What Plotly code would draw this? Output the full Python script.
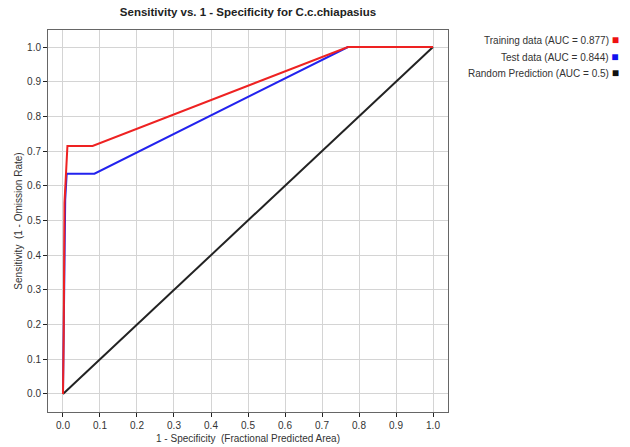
import plotly.graph_objects as go

train_x = [0.0, 0.002, 0.004, 0.006, 0.012, 0.08, 0.77, 1.0]
train_y = [0.0, 0.18, 0.55, 0.60, 0.715, 0.715, 1.0, 1.0]
test_x = [0.0, 0.002, 0.006, 0.01, 0.085, 0.77, 1.0]
test_y = [0.0, 0.18, 0.56, 0.635, 0.635, 1.0, 1.0]
rand_x = [0.0, 1.0]
rand_y = [0.0, 1.0]

legend_labels = ["Training data (AUC = 0.877)", "Test data (AUC = 0.844)", "Random Prediction (AUC = 0.5)"]
legend_colors = ["#ee1111", "#1111ee", "#111111"]

ticks = [round(i * 0.1, 1) for i in range(11)]
tick_text = [f"{t:.1f}" for t in ticks]

fig = go.Figure()
fig.add_trace(go.Scatter(x=rand_x, y=rand_y, mode="lines", line=dict(color="#222222", width=2), showlegend=False))
fig.add_trace(go.Scatter(x=test_x, y=test_y, mode="lines", line=dict(color="#2222ee", width=2), showlegend=False))
fig.add_trace(go.Scatter(x=train_x, y=train_y, mode="lines", line=dict(color="#ee2222", width=2), showlegend=False))

font = "Liberation Sans, Arial, sans-serif"
for i, (lab, col) in enumerate(zip(legend_labels, legend_colors)):
    fig.add_annotation(
        xref="paper", yref="paper", x=1.0 + 173 / 400, y=1 - (10 + i * 16.5) / 382,
        xanchor="right", yanchor="middle", showarrow=False,
        text=f"{lab} <span style='color:{col};font-size:12px'>■</span>",
        font=dict(family=font, size=10, color="#333333"),
    )

fig.update_layout(
    width=630, height=447,
    margin=dict(l=48, r=182, t=30, b=35),
    paper_bgcolor="white", plot_bgcolor="white",
    title=dict(text="<b>Sensitivity vs. 1 - Specificity for C.c.chiapasius</b>",
               x=(48 + 200) / 630, xanchor="center", y=1 - 12 / 447, yanchor="middle",
               font=dict(family=font, size=11.5, color="#222222")),
    font=dict(family=font, size=10, color="#333333"),
    xaxis=dict(range=[-0.0405, 1.0405], tickvals=ticks, ticktext=tick_text, automargin=False,
               showgrid=True, gridcolor="#d4d4d4", gridwidth=1, zeroline=False,
               showline=True, mirror=True, linecolor="#666666", linewidth=1,
               ticks="outside", ticklen=4, tickcolor="#222222",
               title=dict(text="1 - Specificity  (Fractional Predicted Area)", standoff=4,
                          font=dict(size=10))),
    yaxis=dict(range=[-0.052, 1.049], tickvals=ticks, ticktext=tick_text, automargin=False,
               showgrid=True, gridcolor="#d4d4d4", gridwidth=1, zeroline=False,
               showline=True, mirror=True, linecolor="#666666", linewidth=1,
               ticks="outside", ticklen=4, tickcolor="#222222",
               title=dict(text="Sensitivity  (1 - Omission Rate)", standoff=2,
                          font=dict(size=10))),
)

fig.write_html("out.html", config={"displayModeBar": False},
               post_script="document.body.style.margin='0';document.body.style.overflow='hidden';")
